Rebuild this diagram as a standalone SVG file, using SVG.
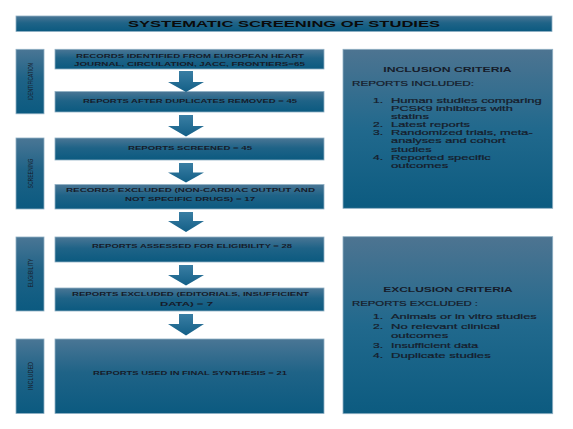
<svg xmlns="http://www.w3.org/2000/svg" width="573" height="429" viewBox="0 0 573 429">
<defs>
<linearGradient id="gb" x1="0" y1="0" x2="0" y2="1">
<stop offset="0" stop-color="#4a7695"/>
<stop offset="0.45" stop-color="#1f6387"/>
<stop offset="1" stop-color="#0b5a80"/>
</linearGradient>
<linearGradient id="gr" x1="0" y1="0" x2="0" y2="1">
<stop offset="0" stop-color="#4d7491"/>
<stop offset="0.5" stop-color="#21698d"/>
<stop offset="1" stop-color="#0c5b80"/>
</linearGradient>
<linearGradient id="ga" x1="0" y1="0" x2="0" y2="1">
<stop offset="0" stop-color="#3a7ea3"/>
<stop offset="1" stop-color="#135f87"/>
</linearGradient>
</defs>
<style>
.box{fill:url(#gb);stroke:#8fb0c4;stroke-width:0.8}
.rbox{fill:url(#gr);stroke:#8fb0c4;stroke-width:0.8}
.arr{fill:url(#ga)}
.t{font-family:"Liberation Sans",Arial,sans-serif;font-weight:bold;font-size:6.2px;fill:#161c2a;text-anchor:middle}
.side{font-family:"Liberation Sans",Arial,sans-serif;font-size:8px;fill:#161c2a;text-anchor:middle}
.h{font-family:"Liberation Sans",Arial,sans-serif;font-weight:bold;font-size:8px;fill:#161c2a}
.r{font-family:"Liberation Sans",Arial,sans-serif;font-size:7.2px;fill:#161c2a;stroke:#161c2a;stroke-width:0.2}
.title{font-family:"Liberation Sans",Arial,sans-serif;font-weight:bold;font-size:9px;fill:#0a0a0a;text-anchor:middle}
</style>
<rect width="573" height="429" fill="#ffffff"/>

<g id="title">
<rect class="box" x="16" y="16" width="536" height="15.5"/>
<text class="title" x="284" y="27.3" textLength="312" lengthAdjust="spacingAndGlyphs">SYSTEMATIC  SCREENING  OF  STUDIES</text>
</g>

<g id="stage-identification">
<rect class="box" x="16" y="49.3" width="28" height="64.5"/>
<text class="side" transform="translate(33,81.5) rotate(-90)" textLength="37" lengthAdjust="spacingAndGlyphs">IDENTIFICATION</text>
</g>
<g id="stage-screening">
<rect class="box" x="16" y="138" width="28" height="71"/>
<text class="side" transform="translate(33,173.5) rotate(-90)" textLength="30" lengthAdjust="spacingAndGlyphs">SCREENING</text>
</g>
<g id="stage-eligibility">
<rect class="box" x="16" y="237" width="28" height="74"/>
<text class="side" transform="translate(33,273) rotate(-90)" textLength="29" lengthAdjust="spacingAndGlyphs">ELIGIBILITY</text>
</g>
<g id="stage-included">
<rect class="box" x="16" y="339" width="28" height="74.5"/>
<text class="side" transform="translate(33,376) rotate(-90)" textLength="28" lengthAdjust="spacingAndGlyphs">INCLUDED</text>
</g>

<g id="box-identified">
<rect class="box" x="55" y="49.3" width="269" height="19.7"/>
<text class="t" x="190" y="57.6" textLength="228" lengthAdjust="spacingAndGlyphs">RECORDS IDENTIFIED FROM EUROPEAN HEART</text>
<text class="t" x="189.5" y="66.2" textLength="231" lengthAdjust="spacingAndGlyphs">JOURNAL, CIRCULATION, JACC, FRONTIERS=65</text>
</g>
<g id="box-duplicates">
<rect class="box" x="55" y="91.5" width="269" height="20.5"/>
<text class="t" x="190" y="103.3" textLength="214" lengthAdjust="spacingAndGlyphs">REPORTS AFTER DUPLICATES REMOVED = 45</text>
</g>
<g id="box-screened">
<rect class="box" x="55" y="138" width="269" height="22"/>
<text class="t" x="190" y="150" textLength="124" lengthAdjust="spacingAndGlyphs">REPORTS SCREENED = 45</text>
</g>
<g id="box-excluded-records">
<rect class="box" x="55" y="184.5" width="269" height="24.5"/>
<text class="t" x="190.5" y="192.3" textLength="249" lengthAdjust="spacingAndGlyphs">RECORDS EXCLUDED (NON-CARDIAC OUTPUT AND</text>
<text class="t" x="190" y="201.3" textLength="130" lengthAdjust="spacingAndGlyphs">NOT SPECIFIC DRUGS) = 17</text>
</g>
<g id="box-assessed">
<rect class="box" x="55" y="237" width="269" height="25"/>
<text class="t" x="192" y="247.8" textLength="200" lengthAdjust="spacingAndGlyphs">REPORTS ASSESSED FOR ELIGIBILITY = 28</text>
</g>
<g id="box-excluded-reports">
<rect class="box" x="55" y="288" width="269" height="23"/>
<text class="t" x="190.5" y="296.3" textLength="237" lengthAdjust="spacingAndGlyphs">REPORTS EXCLUDED (EDITORIALS, INSUFFICIENT</text>
<text class="t" x="186.5" y="306" textLength="53" lengthAdjust="spacingAndGlyphs">DATA)  = 7</text>
</g>
<g id="box-final">
<rect class="box" x="55" y="339" width="269" height="74.5"/>
<text class="t" x="190" y="375.2" textLength="194" lengthAdjust="spacingAndGlyphs">REPORTS USED IN FINAL SYNTHESIS = 21</text>
</g>

<g id="inclusion-criteria">
<rect class="rbox" x="343" y="49.3" width="209.7" height="159"/>
<text class="h" x="383.3" y="71.7" textLength="128.4" lengthAdjust="spacingAndGlyphs">INCLUSION CRITERIA</text>
<text class="r" x="352" y="85.7" textLength="122" lengthAdjust="spacingAndGlyphs">REPORTS INCLUDED:</text>
<text class="r" x="373" y="103.3" textLength="10" lengthAdjust="spacingAndGlyphs">1.</text>
<text class="r" x="391" y="103.3" textLength="150.7" lengthAdjust="spacingAndGlyphs">Human studies comparing</text>
<text class="r" x="391" y="110.9" textLength="121.7" lengthAdjust="spacingAndGlyphs">PCSK9 inhibitors with</text>
<text class="r" x="391" y="118.5" textLength="38" lengthAdjust="spacingAndGlyphs">statins</text>
<text class="r" x="373" y="126.8" textLength="10" lengthAdjust="spacingAndGlyphs">2.</text>
<text class="r" x="391" y="126.8" textLength="79" lengthAdjust="spacingAndGlyphs">Latest reports</text>
<text class="r" x="373" y="134.9" textLength="10" lengthAdjust="spacingAndGlyphs">3.</text>
<text class="r" x="391" y="134.9" textLength="141.7" lengthAdjust="spacingAndGlyphs">Randomized trials, meta-</text>
<text class="r" x="391" y="143.3" textLength="114.7" lengthAdjust="spacingAndGlyphs">analyses and cohort</text>
<text class="r" x="391" y="151.7" textLength="40.7" lengthAdjust="spacingAndGlyphs">studies</text>
<text class="r" x="373" y="160" textLength="10" lengthAdjust="spacingAndGlyphs">4.</text>
<text class="r" x="391" y="160" textLength="99.7" lengthAdjust="spacingAndGlyphs">Reported specific</text>
<text class="r" x="391" y="168.3" textLength="57.3" lengthAdjust="spacingAndGlyphs">outcomes</text>
</g>

<g id="exclusion-criteria">
<rect class="rbox" x="343" y="236.7" width="209.7" height="177"/>
<text class="h" x="383.3" y="291.7" textLength="129.4" lengthAdjust="spacingAndGlyphs">EXCLUSION CRITERIA</text>
<text class="r" x="352" y="306" textLength="126" lengthAdjust="spacingAndGlyphs">REPORTS EXCLUDED :</text>
<text class="r" x="373" y="319" textLength="10" lengthAdjust="spacingAndGlyphs">1.</text>
<text class="r" x="391" y="319" textLength="145.7" lengthAdjust="spacingAndGlyphs">Animals or in vitro studies</text>
<text class="r" x="373" y="329" textLength="10" lengthAdjust="spacingAndGlyphs">2.</text>
<text class="r" x="391" y="329" textLength="109" lengthAdjust="spacingAndGlyphs">No relevant clinical</text>
<text class="r" x="391" y="338.4" textLength="57.3" lengthAdjust="spacingAndGlyphs">outcomes</text>
<text class="r" x="373" y="348.3" textLength="10" lengthAdjust="spacingAndGlyphs">3.</text>
<text class="r" x="391" y="348.3" textLength="87.3" lengthAdjust="spacingAndGlyphs">Insufficient data</text>
<text class="r" x="373" y="357.7" textLength="10" lengthAdjust="spacingAndGlyphs">4.</text>
<text class="r" x="391" y="357.7" textLength="99.7" lengthAdjust="spacingAndGlyphs">Duplicate studies</text>
</g>

<g id="connectors">
<polygon class="arr" points="179,71 193,71 193,82 204,82 186,92 168,82 179,82"/>
<polygon class="arr" points="179,115 193,115 193,126 204,126 186,136.5 168,126 179,126"/>
<polygon class="arr" points="179,163 193,163 193,172.5 204,172.5 186,182.5 168,172.5 179,172.5"/>
<polygon class="arr" points="179,212 193,212 193,221 204,221 186,232 168,221 179,221"/>
<polygon class="arr" points="179,265 193,265 193,275 204,275 186,285.5 168,275 179,275"/>
<polygon class="arr" points="179,314 193,314 193,324 204,324 186,335.5 168,324 179,324"/>
</g>
</svg>
